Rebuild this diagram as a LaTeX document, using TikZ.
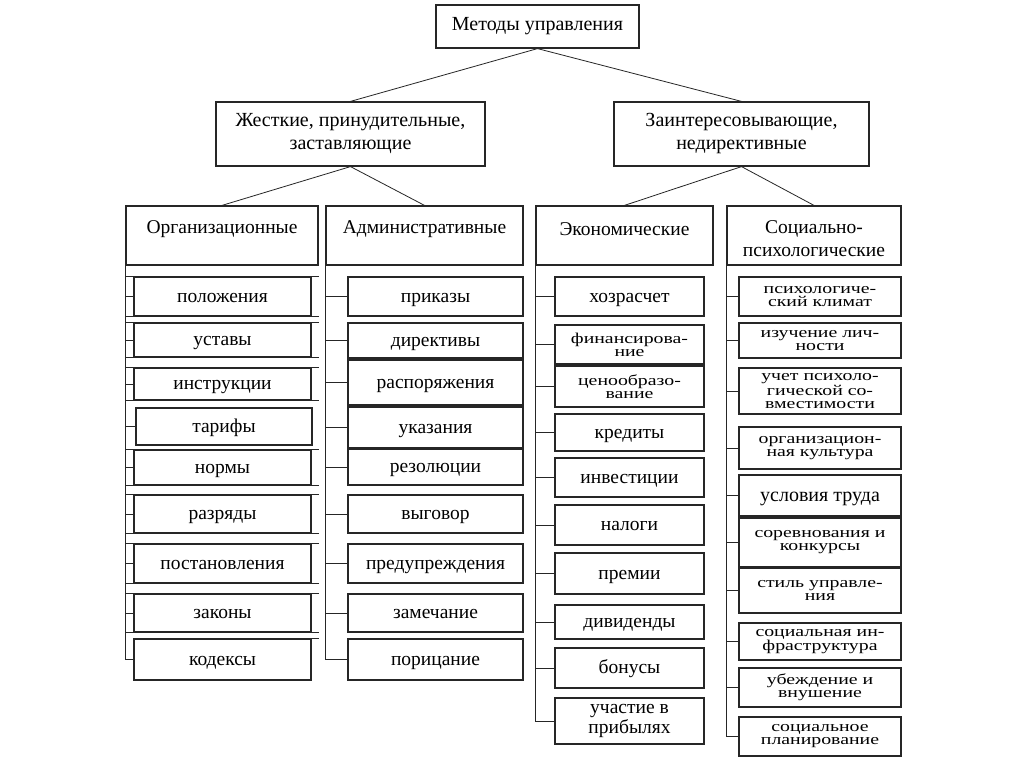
\documentclass[tikz,border=0pt]{standalone}
\usepackage{fontspec}
\setmainfont{Liberation Serif}
\newfontfamily\sqfont[FakeStretch=1.32]{Liberation Serif}
\begin{document}
\begin{tikzpicture}[x=1pt,y=-1pt,
  line width=0.9pt, draw=black!85,
  box/.style={draw, line width=1.2pt, inner sep=1pt, align=center, font=\fontsize{20}{23}\selectfont},
  hbox/.style={draw, line width=1.2pt, inner sep=0pt},
  htxt/.style={align=center, inner sep=0pt, font=\fontsize{19.5}{23}\selectfont},
  itm/.style={draw, line width=1.2pt, inner sep=0pt, align=center, font=\fontsize{19.5}{19}\selectfont, text height=14pt, text depth=3pt},
  itmm/.style={draw, line width=1.2pt, inner sep=0pt, align=center, font=\fontsize{19.5}{17}\selectfont},
  sq/.style={draw, line width=1.2pt, inner sep=0pt, align=center, font=\sqfont\fontsize{15}{13}\selectfont},
  conn/.style={line width=0.8pt},
  tick/.style={line width=1pt},
  sep/.style={line width=1.1pt}
]
\useasboundingbox (0,0) rectangle (1024,767);
\fill[white] (0,0) rectangle (1024,767);

% top levels
\node[box, minimum width=203, minimum height=43] (top) at (537.5,26.5) {Методы управления};
\node[box, minimum width=269, minimum height=64] (zh) at (350.5,134) {Жесткие, принудительные,\\заставляющие};
\node[box, minimum width=255, minimum height=64] (za) at (741.5,134) {Заинтересовывающие,\\недирективные};

% column headers
\node[hbox, minimum width=192, minimum height=59] (org) at (222,235.5) {};
\node[hbox, minimum width=197, minimum height=59] (adm) at (424.5,235.5) {};
\node[hbox, minimum width=177, minimum height=59] (eco) at (624.5,235.5) {};
\node[hbox, minimum width=174, minimum height=59] (soc) at (814,235.5) {};
\node[htxt] (orgt) at (222,229) {Организационные};
\node[htxt] (admt) at (424.5,229) {Административные};
\node[htxt] (ecot) at (624.5,229) {Экономические};
\node[htxt] (soct) at (814,239) {Социально-\\психологические};

\draw[conn] (top.south) -- (zh.north);
\draw[conn] (top.south) -- (za.north);
\draw[conn] (zh.south) -- (org.north);
\draw[conn] (zh.south) -- (adm.north);
\draw[conn] (za.south) -- (eco.north);
\draw[conn] (za.south) -- (soc.north);

% organisational items
\node[itm, minimum width=177, minimum height=39] (o1) at (222.5,296.5) {положения};
\node[itm, minimum width=177, minimum height=34] (o2) at (222.5,340) {уставы};
\node[itm, minimum width=177, minimum height=32] (o3) at (222.5,384) {инструкции};
\node[itm, minimum width=176, minimum height=37] (o4) at (224,426.5) {тарифы};
\node[itm, minimum width=177, minimum height=35] (o5) at (222.5,467.5) {нормы};
\node[itm, minimum width=177, minimum height=38] (o6) at (222.5,514) {разряды};
\node[itm, minimum width=177, minimum height=39] (o7) at (222.5,563.5) {постановления};
\node[itm, minimum width=177, minimum height=38] (o8) at (222.5,613) {законы};
\node[itm, minimum width=177, minimum height=41] (o9) at (222.5,659.5) {кодексы};

% table-like separator lines of the organisational column
\foreach \n in {o1,o2,o3,o5,o6,o7,o8} {
  \draw[sep] (org.west |- \n.north) -- (org.east |- \n.north);
  \draw[sep] (org.west |- \n.south) -- (org.east |- \n.south);
}
\draw[sep] (o9.north west) -- (org.east |- o9.north);

% administrative items
\node[itm, minimum width=175, minimum height=39] (a1) at (435.5,296.5) {приказы};
\node[itm, minimum width=175, minimum height=35] (a2) at (435.5,340.5) {директивы};
\node[itm, minimum width=175, minimum height=45] (a3) at (435.5,382.5) {распоряжения};
\node[itm, minimum width=175, minimum height=41] (a4) at (435.5,427.5) {указания};
\node[itm, minimum width=175, minimum height=36] (a5) at (435.5,467) {резолюции};
\node[itm, minimum width=175, minimum height=38] (a6) at (435.5,514) {выговор};
\node[itm, minimum width=175, minimum height=39] (a7) at (435.5,563.5) {предупреждения};
\node[itm, minimum width=175, minimum height=38] (a8) at (435.5,613) {замечание};
\node[itm, minimum width=175, minimum height=41] (a9) at (435.5,659.5) {порицание};

% economic items
\node[itm, minimum width=149, minimum height=39] (e1) at (629.5,296.5) {хозрасчет};
\node[sq,  minimum width=149, minimum height=39] (e2) at (629.5,344.5) {финансирова-\\ние};
\node[sq,  minimum width=149, minimum height=41] (e3) at (629.5,386.5) {ценообразо-\\вание};
\node[itm, minimum width=149, minimum height=37] (e4) at (629.5,432.5) {кредиты};
\node[itm, minimum width=149, minimum height=39] (e5) at (629.5,477.5) {инвестиции};
\node[itm, minimum width=149, minimum height=40] (e6) at (629.5,525) {налоги};
\node[itm, minimum width=149, minimum height=41] (e7) at (629.5,573.5) {премии};
\node[itm, minimum width=149, minimum height=34] (e8) at (629.5,622) {дивиденды};
\node[itm, minimum width=149, minimum height=40] (e9) at (629.5,668) {бонусы};
\node[itmm, minimum width=149, minimum height=46] (e10) at (629.5,721) {участие в\\прибылях};

% social items
\node[sq,  minimum width=162, minimum height=39] (s1) at (820,296.5) {психологиче-\\ский климат};
\node[sq,  minimum width=162, minimum height=35] (s2) at (820,340.5) {изучение лич-\\ности};
\node[sq,  minimum width=162, minimum height=46] (s3) at (820,391) {учет психоло-\\гической со-\\вместимости};
\node[sq,  minimum width=162, minimum height=42] (s4) at (820,448) {организацион-\\ная культура};
\node[itm, minimum width=162, minimum height=41, font=\fontsize{20}{20}\selectfont] (s5) at (820,495.5) {условия труда};
\node[sq,  minimum width=162, minimum height=49] (s6) at (820,542.5) {соревнования и\\конкурсы};
\node[sq,  minimum width=162, minimum height=45] (s7) at (820,590.5) {стиль управле-\\ния};
\node[sq,  minimum width=162, minimum height=37] (s8) at (820,641.5) {социальная ин-\\фраструктура};
\node[sq,  minimum width=162, minimum height=39] (s9) at (820,687.5) {убеждение и\\внушение};
\node[sq,  minimum width=162, minimum height=39] (s10) at (820,736.5) {социальное\\планирование};

% trunks
\draw[tick] (org.south west) |- (o9.west);
\draw[tick] (adm.south west) |- (a9.west);
\draw[tick] (eco.south west) |- (e10.west);
\draw[tick] (soc.south west) |- (s10.west);

% ticks
\foreach \n in {o1,o2,o3,o4,o5,o6,o7,o8} \draw[tick] (org.south west |- \n.west) -- (\n.west);
\foreach \n in {a1,a2,a3,a4,a5,a6,a7,a8} \draw[tick] (adm.south west |- \n.west) -- (\n.west);
\foreach \n in {e1,e2,e3,e4,e5,e6,e7,e8,e9} \draw[tick] (eco.south west |- \n.west) -- (\n.west);
\foreach \n in {s1,s2,s3,s4,s5,s6,s7,s8,s9} \draw[tick] (soc.south west |- \n.west) -- (\n.west);
\end{tikzpicture}
\end{document}
